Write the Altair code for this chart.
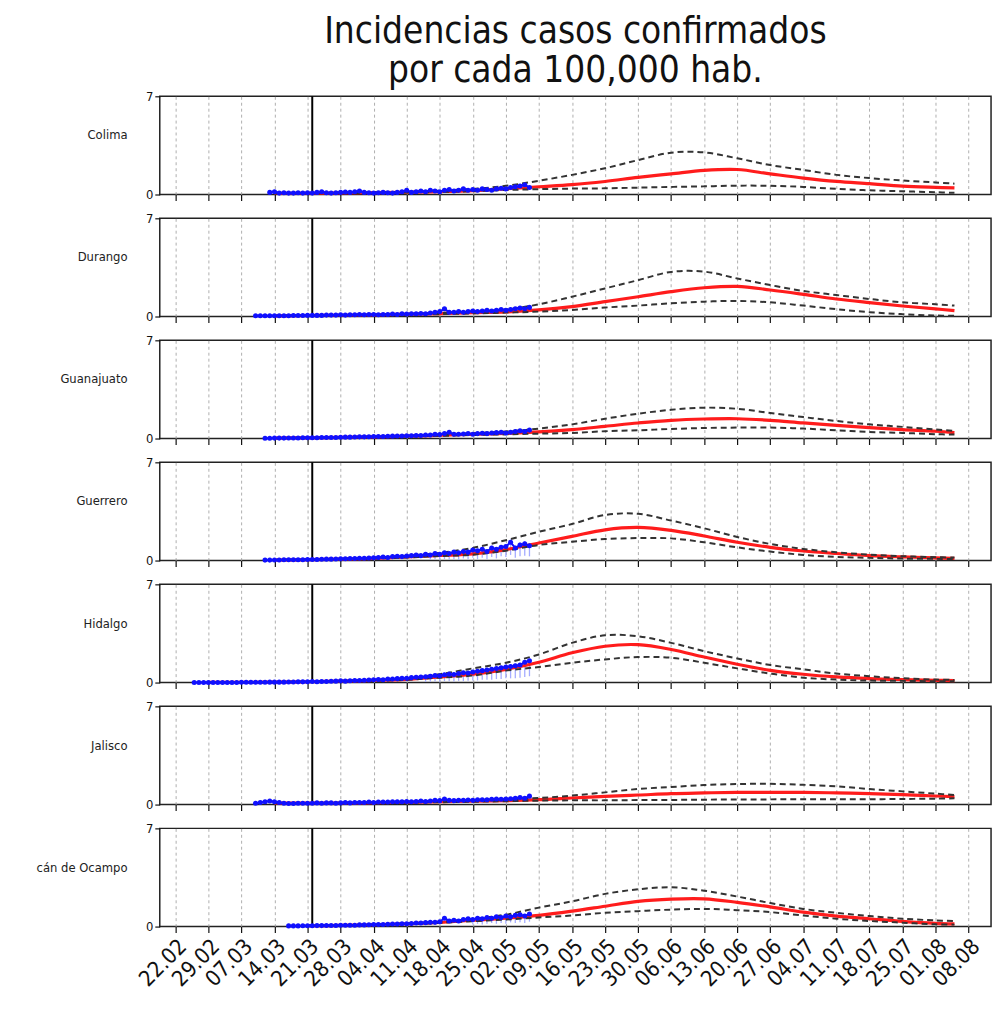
import altair as alt
import pandas as pd

# ---------------- data ----------------
STATES = ["Colima", "Durango", "Guanajuato", "Guerrero", "Hidalgo", "Jalisco", "cán de Ocampo"]

TICK_DATES = ["2020-02-22", "2020-02-29", "2020-03-07", "2020-03-14", "2020-03-21",
              "2020-03-28", "2020-04-04", "2020-04-11", "2020-04-18", "2020-04-25",
              "2020-05-02", "2020-05-09", "2020-05-16", "2020-05-23", "2020-05-30",
              "2020-06-06", "2020-06-13", "2020-06-20", "2020-06-27", "2020-07-04",
              "2020-07-11", "2020-07-18", "2020-07-25", "2020-08-01", "2020-08-08"]

LOCKDOWN_DATE = "2020-03-22"

# model curve dates (weekly); each state's model lists are aligned to the END of this list
MODEL_DATES = ["2020-02-29", "2020-03-07", "2020-03-14", "2020-03-21", "2020-03-28",
               "2020-04-04", "2020-04-11", "2020-04-18", "2020-04-25", "2020-05-02",
               "2020-05-09", "2020-05-16", "2020-05-23", "2020-05-30", "2020-06-06",
               "2020-06-13", "2020-06-20", "2020-06-27", "2020-07-04", "2020-07-11",
               "2020-07-18", "2020-07-25", "2020-08-01", "2020-08-05"]

OBS_START = {
    "Colima": "2020-03-13", "Durango": "2020-03-10", "Guanajuato": "2020-03-12",
    "Guerrero": "2020-03-12", "Hidalgo": "2020-02-26", "Jalisco": "2020-03-10",
    "cán de Ocampo": "2020-03-17",
}

OBS = {
    "Colima": [0.15, 0.2, 0.1, 0.12, 0.1, 0.1, 0.12,
               0.1, 0.12, 0.1, 0.15, 0.2, 0.12, 0.1,
               0.12, 0.15, 0.18, 0.15, 0.2, 0.25, 0.15,
               0.12, 0.1, 0.12, 0.15, 0.12, 0.1, 0.15,
               0.2, 0.3, 0.15, 0.2, 0.25, 0.2, 0.3,
               0.25, 0.2, 0.3, 0.35, 0.25, 0.3, 0.4,
               0.3, 0.35, 0.3, 0.4, 0.35, 0.3, 0.4,
               0.45, 0.4, 0.5, 0.55, 0.6, 0.7, 0.5],
    "Durango": [0.05, 0.05, 0.05, 0.05, 0.06, 0.06, 0.06,
                0.06, 0.07, 0.07, 0.07, 0.08, 0.08, 0.08,
                0.08, 0.1, 0.1, 0.1, 0.12, 0.1, 0.12,
                0.12, 0.15, 0.12, 0.15, 0.15, 0.12, 0.15,
                0.15, 0.18, 0.15, 0.2, 0.18, 0.2, 0.2,
                0.22, 0.2, 0.25, 0.3, 0.35, 0.55, 0.3,
                0.3, 0.35, 0.3, 0.35, 0.4, 0.35, 0.4,
                0.45, 0.4, 0.45, 0.5, 0.45, 0.5, 0.55,
                0.6, 0.55, 0.65],
    "Guanajuato": [0.02, 0.02, 0.03, 0.03, 0.03, 0.04, 0.04,
                   0.04, 0.05, 0.05, 0.06, 0.06, 0.07, 0.07,
                   0.08, 0.08, 0.09, 0.1, 0.1, 0.11, 0.12,
                   0.12, 0.13, 0.14, 0.15, 0.15, 0.16, 0.17,
                   0.18, 0.18, 0.2, 0.2, 0.22, 0.22, 0.25,
                   0.25, 0.3, 0.28, 0.35, 0.45, 0.3, 0.3,
                   0.32, 0.35, 0.3, 0.35, 0.38, 0.35, 0.4,
                   0.42, 0.45, 0.4, 0.45, 0.5, 0.55, 0.5,
                   0.6],
    "Guerrero": [0.03, 0.03, 0.04, 0.04, 0.05, 0.05, 0.05,
                 0.06, 0.06, 0.07, 0.08, 0.08, 0.09, 0.1,
                 0.1, 0.11, 0.12, 0.13, 0.14, 0.15, 0.16,
                 0.17, 0.18, 0.2, 0.22, 0.25, 0.22, 0.28,
                 0.3, 0.28, 0.32, 0.35, 0.4, 0.35, 0.45,
                 0.4, 0.5, 0.45, 0.55, 0.5, 0.6, 0.55,
                 0.65, 0.6, 0.75, 0.7, 0.8, 0.65, 0.9,
                 0.8, 0.95, 1.0, 1.3, 0.9, 1.1, 1.2,
                 1.05],
    "Hidalgo": [0.01, 0.01, 0.01, 0.01, 0.01, 0.01, 0.01,
                0.01, 0.01, 0.01, 0.02, 0.02, 0.02, 0.02,
                0.02, 0.02, 0.03, 0.03, 0.03, 0.03, 0.04,
                0.04, 0.05, 0.05, 0.06, 0.07, 0.06, 0.08,
                0.08, 0.09, 0.1, 0.12, 0.1, 0.13, 0.15,
                0.15, 0.17, 0.18, 0.2, 0.22, 0.2, 0.25,
                0.25, 0.28, 0.3, 0.3, 0.35, 0.38, 0.4,
                0.42, 0.45, 0.5, 0.48, 0.55, 0.6, 0.58,
                0.65, 0.7, 0.68, 0.75, 0.8, 0.85, 0.9,
                0.95, 1.0, 1.05, 1.1, 1.15, 1.2, 1.25,
                1.45, 1.55],
    "Jalisco": [0.1, 0.15, 0.2, 0.25, 0.2, 0.15, 0.1,
                0.08, 0.08, 0.1, 0.1, 0.1, 0.1, 0.12,
                0.1, 0.12, 0.12, 0.1, 0.12, 0.15, 0.12,
                0.15, 0.15, 0.15, 0.18, 0.15, 0.18, 0.18,
                0.18, 0.2, 0.2, 0.2, 0.22, 0.2, 0.22,
                0.25, 0.22, 0.25, 0.3, 0.28, 0.4, 0.3,
                0.28, 0.3, 0.3, 0.32, 0.3, 0.35, 0.35,
                0.35, 0.38, 0.4, 0.38, 0.4, 0.42, 0.45,
                0.5, 0.45, 0.6],
    "cán de Ocampo": [0.05, 0.05, 0.05, 0.06, 0.06, 0.06, 0.07,
                      0.07, 0.08, 0.08, 0.08, 0.09, 0.1, 0.1,
                      0.1, 0.12, 0.12, 0.13, 0.14, 0.15, 0.15,
                      0.16, 0.18, 0.18, 0.2, 0.2, 0.22, 0.25,
                      0.25, 0.28, 0.3, 0.3, 0.35, 0.6, 0.4,
                      0.45, 0.4, 0.5, 0.55, 0.5, 0.6, 0.55,
                      0.65, 0.6, 0.7, 0.65, 0.75, 0.7, 0.8,
                      0.85, 0.75, 0.9],
}

# error bars (light blue) for the last days of some states
ERR_START = {"Guerrero": "2020-04-16", "Hidalgo": "2020-04-15", "cán de Ocampo": "2020-04-25"}
ERR_LO = {
    "Guerrero": [0.05, 0.1, 0.05, 0.1, 0.08, 0.1, 0.05, 0.15, 0.1, 0.2, 0.1,
                 0.2, 0.1, 0.25, 0.15, 0.3, 0.25, 0.4, 0.2, 0.3, 0.35, 0.3],
    "Hidalgo": [0.05, 0.05, 0.08, 0.05, 0.1, 0.1, 0.08, 0.12, 0.1, 0.12, 0.15, 0.15,
                0.2, 0.2, 0.2, 0.25, 0.25, 0.3, 0.3, 0.3, 0.35, 0.4, 0.45],
    "cán de Ocampo": [0.15, 0.2, 0.15, 0.2, 0.25, 0.2, 0.25, 0.2, 0.3, 0.25, 0.3, 0.25, 0.35],
}
ERR_HI = {
    "Guerrero": [0.5, 0.6, 0.55, 0.65, 0.6, 0.7, 0.65, 0.8, 0.7, 0.9, 0.85,
                 0.95, 0.8, 1.05, 0.95, 1.1, 1.15, 1.5, 1.05, 1.3, 1.4, 1.25],
    "Hidalgo": [0.55, 0.6, 0.65, 0.6, 0.7, 0.75, 0.72, 0.8, 0.85, 0.82, 0.9, 0.95,
                1.0, 1.05, 1.1, 1.15, 1.2, 1.25, 1.3, 1.35, 1.4, 1.6, 1.7],
    "cán de Ocampo": [0.6, 0.7, 0.65, 0.75, 0.7, 0.8, 0.75, 0.85, 0.8, 0.9, 0.95, 0.85, 1.0],
}

FIT = {
    "Colima": [0.08, 0.09, 0.11, 0.13, 0.16, 0.21, 0.28, 0.4, 0.55, 0.7, 0.93, 1.22,
               1.47, 1.72, 1.78, 1.47, 1.17, 0.93, 0.77, 0.6, 0.51, 0.47],
    "Durango": [0.05, 0.07, 0.09, 0.12, 0.16, 0.21, 0.27, 0.33, 0.47, 0.71, 1.06, 1.41,
                1.77, 2.05, 2.15, 1.89, 1.58, 1.25, 0.99, 0.75, 0.54, 0.42],
    "Guanajuato": [0.03, 0.05, 0.08, 0.12, 0.17, 0.23, 0.3, 0.36, 0.47, 0.64, 0.87, 1.11,
                   1.3, 1.39, 1.41, 1.3, 1.11, 0.94, 0.78, 0.64, 0.52, 0.42],
    "Guerrero": [0.04, 0.06, 0.1, 0.16, 0.25, 0.36, 0.47, 0.78, 1.25, 1.72, 2.19, 2.36,
                 2.15, 1.75, 1.3, 0.94, 0.68, 0.5, 0.35, 0.26, 0.19, 0.16],
    "Hidalgo": [0.01, 0.02, 0.03, 0.06, 0.1, 0.15, 0.22, 0.4, 0.59, 0.94, 1.45, 2.12,
                2.59, 2.7, 2.36, 1.82, 1.3, 0.87, 0.59, 0.4, 0.28, 0.21, 0.16, 0.14],
    "Jalisco": [0.1, 0.1, 0.11, 0.13, 0.16, 0.2, 0.24, 0.28, 0.35, 0.47, 0.59, 0.68,
                0.78, 0.83, 0.87, 0.87, 0.87, 0.83, 0.78, 0.71, 0.61, 0.57],
    "cán de Ocampo": [0.06, 0.08, 0.13, 0.2, 0.3, 0.45, 0.6, 0.8, 1.1, 1.45, 1.8,
                      1.96, 1.98, 1.73, 1.4, 1.03, 0.75, 0.56, 0.37, 0.23, 0.19],
}
UPPER = {
    "Colima": [0.09, 0.1, 0.12, 0.15, 0.2, 0.27, 0.4, 0.62, 0.98, 1.4, 1.87, 2.45,
               2.98, 3.0, 2.58, 2.1, 1.75, 1.4, 1.17, 1.0, 0.86, 0.77],
    "Durango": [0.06, 0.08, 0.1, 0.14, 0.19, 0.26, 0.36, 0.5, 0.87, 1.41, 2.0, 2.59,
                3.18, 3.2, 2.71, 2.24, 1.82, 1.53, 1.25, 1.01, 0.87, 0.78],
    "Guanajuato": [0.04, 0.06, 0.09, 0.14, 0.2, 0.28, 0.38, 0.5, 0.71, 1.01, 1.41, 1.77,
                   2.05, 2.2, 2.12, 1.82, 1.53, 1.25, 1.01, 0.83, 0.64, 0.54],
    "Guerrero": [0.05, 0.07, 0.12, 0.2, 0.35, 0.55, 0.9, 1.45, 2.05, 2.6, 3.25, 3.33,
                 2.85, 2.3, 1.68, 1.18, 0.83, 0.59, 0.42, 0.31, 0.24, 0.21],
    "Hidalgo": [0.01, 0.02, 0.04, 0.07, 0.12, 0.18, 0.3, 0.6, 1.01, 1.41, 2.0, 2.83,
                3.37, 3.3, 2.83, 2.24, 1.72, 1.25, 0.94, 0.64, 0.45, 0.31, 0.21, 0.19],
    "Jalisco": [0.11, 0.12, 0.13, 0.16, 0.2, 0.25, 0.3, 0.36, 0.47, 0.64, 0.87, 1.11,
                1.25, 1.39, 1.46, 1.48, 1.41, 1.3, 1.11, 0.94, 0.78, 0.68],
    "cán de Ocampo": [0.07, 0.1, 0.15, 0.23, 0.35, 0.55, 0.85, 1.35, 1.8, 2.33, 2.66,
                      2.8, 2.56, 2.14, 1.68, 1.26, 0.98, 0.75, 0.56, 0.44, 0.4],
}
LOWER = {
    "Colima": [0.07, 0.08, 0.1, 0.12, 0.14, 0.18, 0.24, 0.32, 0.38, 0.42, 0.44, 0.49,
               0.54, 0.58, 0.63, 0.62, 0.54, 0.4, 0.3, 0.23, 0.16, 0.12],
    "Durango": [0.04, 0.06, 0.08, 0.1, 0.13, 0.17, 0.22, 0.28, 0.35, 0.47, 0.64, 0.78,
                0.94, 1.06, 1.11, 1.01, 0.78, 0.52, 0.31, 0.17, 0.07, 0.05],
    "Guanajuato": [0.03, 0.04, 0.07, 0.1, 0.14, 0.19, 0.25, 0.3, 0.35, 0.4, 0.52, 0.59,
                   0.68, 0.75, 0.78, 0.78, 0.71, 0.59, 0.47, 0.4, 0.31, 0.28],
    "Guerrero": [0.03, 0.05, 0.09, 0.14, 0.22, 0.32, 0.42, 0.7, 1.11, 1.34, 1.53, 1.6,
                 1.58, 1.3, 0.94, 0.64, 0.4, 0.26, 0.19, 0.14, 0.12, 0.1],
    "Hidalgo": [0.01, 0.02, 0.03, 0.05, 0.09, 0.13, 0.2, 0.35, 0.5, 0.85, 1.11, 1.41,
                1.65, 1.82, 1.77, 1.41, 1.01, 0.64, 0.35, 0.21, 0.14, 0.12, 0.09, 0.09],
    "Jalisco": [0.09, 0.09, 0.1, 0.12, 0.14, 0.17, 0.2, 0.24, 0.28, 0.3, 0.3, 0.32,
                0.33, 0.35, 0.36, 0.37, 0.38, 0.38, 0.38, 0.4, 0.42, 0.45],
    "cán de Ocampo": [0.05, 0.07, 0.11, 0.17, 0.26, 0.38, 0.5, 0.65, 0.79, 0.98, 1.1,
                      1.21, 1.26, 1.17, 1.03, 0.79, 0.56, 0.4, 0.28, 0.16, 0.14],
}

TITLE = ["Incidencias casos confirmados", "por cada 100,000 hab."]

# ---------------- chart ----------------
FONT = "DejaVu Sans Condensed, Liberation Sans Narrow, DejaVu Sans"
PANEL_W = 838
PANEL_H = 99


def iso(d):
    return pd.Timestamp(d).strftime("%Y-%m-%dT%H:%M:%S")


def dt(d, hours=0):
    t = pd.Timestamp(d)
    return alt.DateTime(year=t.year, month=t.month, date=t.day, hours=hours)


X_DOMAIN = [dt("2020-02-18", 17), dt("2020-08-12", 18)]
X_TICKS = [dt(d) for d in TICK_DATES]


def xenc(show_labels):
    return alt.X(
        "date:T", title=None,
        scale=alt.Scale(domain=X_DOMAIN, nice=False),
        axis=alt.Axis(values=X_TICKS, format="%d.%m", labels=show_labels,
                      labelAngle=-45, labelFontSize=22, labelColor="#111",
                      labelOverlap=False, labelFlush=False, labelPadding=3,
                      grid=True, gridDash=[3, 3], gridColor="#9a9a9a", gridWidth=0.8,
                      domain=False, ticks=True, tickColor="#111", tickSize=6,
                      tickWidth=1.2),
    )


def yaxis(state):
    return alt.Axis(values=[0, 7], grid=False, domain=False, title=state,
                    titleAngle=0, titleAlign="right", titleBaseline="middle",
                    titleX=-33, titleY=39, titleFontSize=13, titleFontWeight="normal",
                    titleColor="#222", labelFontSize=13, labelColor="#111",
                    tickColor="#111", tickSize=5, tickWidth=1.2, labelPadding=2,
                    labelFlush=False)


Y_SCALE = alt.Scale(domain=[0, 7], nice=False)


def panel(i, state):
    last = i == len(STATES) - 1
    x = xenc(last)

    obs = pd.DataFrame({
        "date": [iso(d) for d in pd.date_range(OBS_START[state], periods=len(OBS[state]), freq="D")],
        "value": OBS[state],
    })
    n = len(FIT[state])
    mdates = [iso(d) for d in MODEL_DATES[-n:]]
    model = pd.DataFrame({"date": mdates, "fit": FIT[state],
                          "upper": UPPER[state], "lower": LOWER[state]})
    bounds = pd.concat([
        pd.DataFrame({"date": mdates, "value": UPPER[state], "kind": "upper"}),
        pd.DataFrame({"date": mdates, "value": LOWER[state], "kind": "lower"}),
    ])
    rule_df = pd.DataFrame({"date": [iso(LOCKDOWN_DATE)]})

    layers = []
    layers.append(
        alt.Chart(rule_df).mark_rule(color="black", strokeWidth=2).encode(x=x)
    )
    if state in ERR_START:
        err = pd.DataFrame({
            "date": [iso(d) for d in pd.date_range(ERR_START[state], periods=len(ERR_LO[state]), freq="D")],
            "lo": ERR_LO[state], "hi": ERR_HI[state],
        })
        layers.append(
            alt.Chart(err).mark_rule(color="#a4acff", strokeWidth=1.3).encode(
                x=x, y=alt.Y("lo:Q", scale=Y_SCALE, axis=yaxis(state)), y2="hi:Q")
        )
    layers.append(
        alt.Chart(model).mark_line(color="#ff1010", strokeWidth=3.2, opacity=0.95,
                                   interpolate="catmull-rom").encode(
            x=x, y=alt.Y("fit:Q", scale=Y_SCALE, axis=yaxis(state)))
    )
    layers.append(
        alt.Chart(bounds).mark_line(color="#333333", strokeWidth=2, strokeDash=[6, 4],
                                    interpolate="catmull-rom").encode(
            x=x, y=alt.Y("value:Q", scale=Y_SCALE, axis=yaxis(state)), detail="kind:N")
    )
    layers.append(
        alt.Chart(obs).mark_line(color="#1010ff", strokeWidth=2).encode(
            x=x, y=alt.Y("value:Q", scale=Y_SCALE, axis=yaxis(state)))
    )
    layers.append(
        alt.Chart(obs).mark_circle(color="#1010ff", size=26, opacity=1).encode(
            x=x, y=alt.Y("value:Q", scale=Y_SCALE, axis=yaxis(state)))
    )
    ch = alt.layer(*layers).properties(width=PANEL_W, height=PANEL_H)
    if i == 0:
        ch = ch.properties(title=alt.TitleParams(
            text=TITLE, fontSize=37, fontWeight="normal", anchor="middle",
            frame="group", color="#111", font=FONT, lineHeight=40, offset=0))
    return ch


chart = alt.vconcat(*[panel(i, s) for i, s in enumerate(STATES)], spacing=9).properties(
    padding={"left": 27, "top": 0, "right": 5, "bottom": 5}
).configure(font=FONT, background="white").configure_view(
    stroke="#222", strokeWidth=1.5
)

chart.save("out.html", embed_options={"renderer": "svg", "actions": False})
